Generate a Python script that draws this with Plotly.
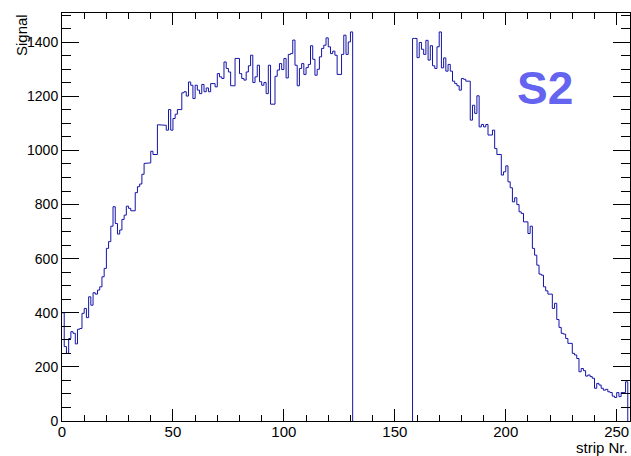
import plotly.graph_objects as go

# Signal per strip, strips 0..130 (left sensor part)
signal_left = [
    400, 275, 250, 305, 330, 324, 285, 339, 342, 398,
    416, 382, 459, 428, 474, 469, 484, 496, 533, 564,
    638, 663, 720, 792, 730, 691, 706, 745, 761, 794,
    786, 777, 777, 844, 866, 876, 912, 952, 954, 954,
    997, 985, 985, 1095, 1095, 1095, 1093, 1075, 1151, 1075,
    1118, 1134, 1151, 1151, 1213, 1217, 1201, 1253, 1241, 1192,
    1241, 1223, 1210, 1244, 1217, 1231, 1217, 1247, 1247, 1235,
    1284, 1272, 1266, 1327, 1303, 1290, 1239, 1239, 1340, 1340,
    1284, 1266, 1260, 1290, 1313, 1352, 1251, 1272, 1315, 1254,
    1241, 1251, 1210, 1315, 1171, 1171, 1274, 1297, 1321, 1299,
    1340, 1268, 1355, 1358, 1408, 1315, 1239, 1303, 1321, 1281,
    1306, 1318, 1387, 1337, 1278, 1300, 1346, 1377, 1389, 1416,
    1383, 1358, 1367, 1352, 1281, 1281, 1355, 1426, 1355, 1401,
    1438,
]
# Signal per strip, strips 158..255 (right sensor part)
signal_right = [
    1414, 1414, 1343, 1399, 1374, 1355, 1407, 1334, 1387, 1313,
    1303, 1383, 1438, 1305, 1342, 1293, 1318, 1293, 1256, 1247,
    1239, 1223, 1266, 1263, 1256, 1256, 1112, 1167, 1137, 1202,
    1087, 1096, 1087, 1096, 1057, 1057, 1075, 1007, 985, 985,
    909, 921, 943, 884, 862, 810, 825, 800, 773, 767,
    736, 736, 693, 720, 638, 613, 576, 543, 539, 496,
    481, 469, 469, 416, 435, 375, 346, 324, 321, 305,
    287, 287, 250, 244, 231, 182, 194, 186, 166, 170,
    164, 158, 121, 139, 133, 121, 114, 117, 108, 105,
    92, 87, 105, 90, 105, 105, 145, 0,
]
n_strips = 256
gap = [0] * (n_strips - len(signal_left) - len(signal_right))
signal = signal_left + gap + signal_right

x_tickvals = [0, 50, 100, 150, 200, 250]
y_tickvals = [0, 200, 400, 600, 800, 1000, 1200, 1400]
y_ticktext = [str(v) for v in y_tickvals]

# Histogram outline (ROOT style): steps per bin, empty bins left to the frame
xs, ys = [], []
prev_zero = True
for i, v in enumerate(signal):
    if v == 0:
        if not prev_zero:
            xs += [i, None]
            ys += [0, None]
        prev_zero = True
        continue
    if prev_zero and i > 0:
        xs.append(i)
        ys.append(0)
    xs += [i, i + 1]
    ys += [v, v]
    prev_zero = False

fig = go.Figure()
fig.add_trace(go.Scatter(
    x=xs, y=ys, mode="lines", line=dict(color="#1414a8", width=1),
    connectgaps=False, hoverinfo="x+y", showlegend=False,
))

font = "Liberation Sans, Arial, sans-serif"
fig.update_layout(
    width=631, height=456,
    margin=dict(l=62, r=1, t=13, b=35),
    paper_bgcolor="white", plot_bgcolor="white",
    showlegend=False,
    xaxis=dict(
        range=[0, n_strips], tickvals=x_tickvals, ticks="inside", ticklen=12,
        tickcolor="black", tickwidth=1, showline=True, linecolor="black", linewidth=1,
        mirror="ticks", showgrid=False, zeroline=False, layer="above traces",
        tickfont=dict(family=font, size=15, color="black"), ticklabelstandoff=-3,
        minor=dict(dtick=10, tick0=0, ticks="inside", ticklen=6, tickcolor="black", showgrid=False),
    ),
    yaxis=dict(
        range=[0, 1508], tickvals=y_tickvals, ticktext=y_ticktext, ticks="inside", ticklen=17,
        tickcolor="black", tickwidth=1, showline=True, linecolor="black", linewidth=1,
        mirror="ticks", showgrid=False, zeroline=False, layer="above traces",
        tickfont=dict(family=font, size=14, color="black"),
        minor=dict(dtick=50, tick0=0, ticks="inside", ticklen=9, tickcolor="black", showgrid=False),
    ),
    annotations=[
        dict(text="Signal", xref="paper", yref="paper", x=0, y=1, xanchor="center", yanchor="top",
             xshift=-41, yshift=1, textangle=-90, showarrow=False,
             font=dict(family=font, size=15, color="black")),
        dict(text="strip Nr.", xref="paper", yref="paper", x=1, y=0, xanchor="right", yanchor="top",
             xshift=0, yshift=-16, showarrow=False,
             font=dict(family=font, size=15, color="black")),
        dict(text="<b>S2</b>", xref="paper", yref="paper", x=0.85, y=0.816, xanchor="center", yanchor="middle",
             showarrow=False, font=dict(family=font, size=46, color="#6464f0")),
    ],
)

fig.write_html(
    "out.html",
    config={"displayModeBar": False},
    post_script="document.body.style.margin='0px';document.body.style.overflow='hidden';",
)
